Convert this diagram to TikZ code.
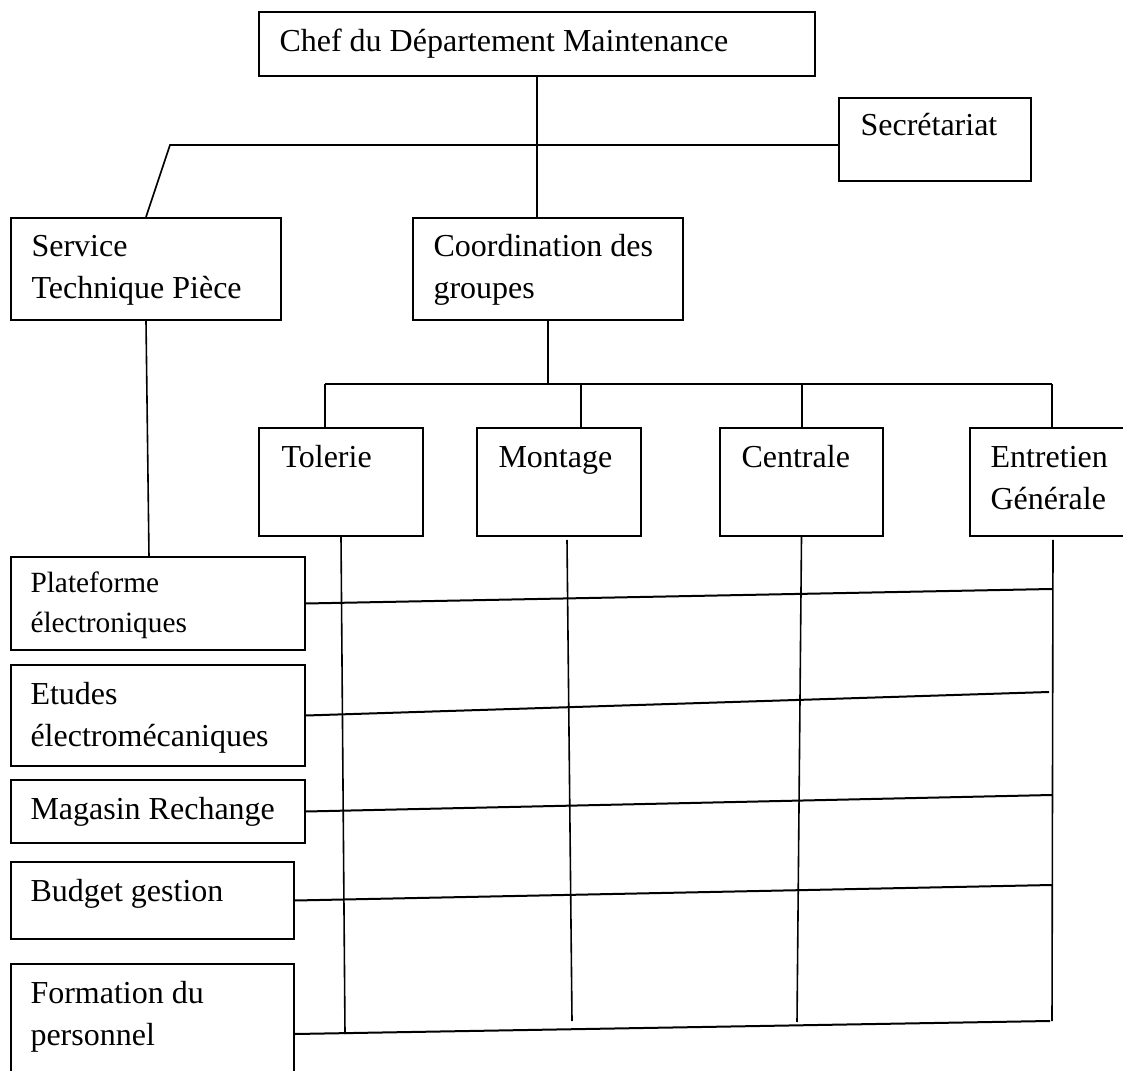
\documentclass[tikz,border=0pt]{standalone}
\usepackage{fontspec}
\setmainfont{Liberation Serif}
\usetikzlibrary{fit,calc}
\begin{document}
\begin{tikzpicture}[x=0.375pt,y=-0.375pt,
  box/.style={draw,line width=0.75pt,inner sep=0pt},
  lbl/.style={anchor=base west,inner sep=0pt,font=\fontsize{12}{14}\selectfont},
  small/.style={lbl,font=\fontsize{11}{13}\selectfont},
  link/.style={line width=0.6pt},
  cross/.style={line width=0.75pt}]
\clip (0,0) rectangle (1123,1071);

% boxes
\node[box,fit={(259,12)(815,76)}] (chef) {};
\node[box,fit={(839,98)(1031,181)}] (sec) {};
\node[box,fit={(11,218)(281,320)}] (svc) {};
\node[box,fit={(413,218)(683,320)}] (coord) {};
\node[box,fit={(259,428)(423,536)}] (tol) {};
\node[box,fit={(477,428)(641,536)}] (mon) {};
\node[box,fit={(720,428)(883,536)}] (cen) {};
\node[box,fit={(970,428)(1140,536)}] (ent) {};
\node[box,fit={(11,557)(305,650)}] (plat) {};
\node[box,fit={(11,665)(305,766)}] (etu) {};
\node[box,fit={(11,780)(305,843)}] (mag) {};
\node[box,fit={(11,862)(294,939)}] (bud) {};
\node[box,fit={(11,964)(294,1090)}] (form) {};

% labels
\node[lbl] (chef-l) at (279,52) {Chef du Département Maintenance};
\node[lbl] (sec-l) at (860,136) {Secrétariat};
\node[lbl] (svc-l1) at (31,257) {Service};
\node[lbl] (svc-l2) at (31,299) {Technique Pièce};
\node[lbl] (coord-l1) at (433,257) {Coordination des};
\node[lbl] (coord-l2) at (433,299) {groupes};
\node[lbl] (tol-l) at (281,468) {Tolerie};
\node[lbl] (mon-l) at (498,468) {Montage};
\node[lbl] (cen-l) at (741,468) {Centrale};
\node[lbl] (ent-l1) at (990,468) {Entretien};
\node[lbl] (ent-l2) at (990,510) {Générale};
\node[small] (plat-l1) at (30,593) {Plateforme};
\node[small] (plat-l2) at (30,633) {électroniques};
\node[lbl] (etu-l1) at (30,705) {Etudes};
\node[lbl] (etu-l2) at (30,747) {électromécaniques};
\node[lbl] (mag-l) at (30,819) {Magasin Rechange};
\node[lbl] (bud-l) at (30,901) {Budget gestion};
\node[lbl] (form-l1) at (30,1003) {Formation du};
\node[lbl] (form-l2) at (30,1045) {personnel};

% upper hierarchy
\coordinate (bend) at (170,145);
\draw[link] (chef.south) -- (chef.south |- coord.north);
\draw[link] (svc.north) -- (bend) -- (bend -| sec.west);
\coordinate (svcfoot) at (149,557);
\draw[link] (svc.south) -- (svcfoot);

% group bus
\coordinate (busL) at (325,384);
\coordinate (busM) at (581,384);
\coordinate (busC) at (802,384);
\coordinate (busR) at (1052,384);
\draw[link] (coord.south) -- (coord.south |- busL);
\draw[link] (busL) -- (busR);
\draw[link] (busL) -- (busL |- tol.north);
\draw[link] (busM) -- (busM |- mon.north);
\draw[link] (busC) -- (busC |- cen.north);
\draw[link] (busR) -- (busR |- ent.north);

% matrix verticals
\coordinate (tolfoot) at (345,1034);
\coordinate (montop) at (567,540);
\coordinate (monfoot) at (572,1021);
\coordinate (cenfoot) at (797,1022);
\coordinate (enttop) at (1053,540);
\coordinate (entfoot) at (1052,1021);
\draw[link] (tol.south) -- (tolfoot);
\draw[link] (montop) -- (monfoot);
\draw[link] (cen.south) -- (cenfoot);
\draw[link] (enttop) -- (entfoot);

% matrix rows
\coordinate (platend) at (1052,589);
\coordinate (etuend) at (1049,692);
\coordinate (magend) at (1052,795);
\coordinate (budend) at (1052,885);
\coordinate (formend) at (1050,1021);
\draw[cross] (plat.east) -- (platend);
\draw[cross] (etu.east) -- (etuend);
\draw[cross] (mag.east) -- (magend);
\draw[cross] (bud.east) -- (budend);
\draw[cross] (tolfoot -| form.east) -- (formend);
\end{tikzpicture}
\end{document}
